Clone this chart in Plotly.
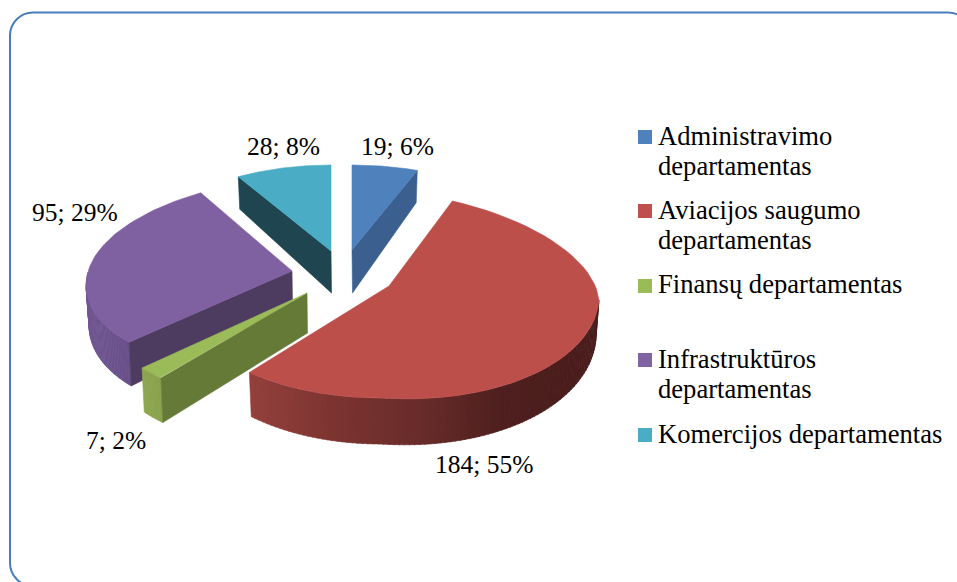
import math
import plotly.graph_objects as go

# ---- data ----
categories = ["Administravimo departamentas", "Aviacijos saugumo departamentas",
              "Finansų departamentas", "Infrastruktūros departamentas",
              "Komercijos departamentas"]
values = [19, 184, 7, 95, 28]
legend_lines = [["Administravimo", "departamentas"], ["Aviacijos saugumo", "departamentas"],
                ["Finansų departamentas"], ["Infrastruktūros", "departamentas"],
                ["Komercijos departamentas"]]

# ---- style ----
top_col = ["#4f81bd", "#bd4f4b", "#9bbb59", "#7f60a0", "#4bacc6"]
face_col = ["#3b5f8f", None, "#667a37", "#4d3b60", "#1f4650"]
W, H = 957, 582
FONT = "Liberation Serif"
FS = 25.5
FS_LEGEND = 26.6
# perspective/explosion geometry per slice
geo = [
    dict(cx=352, cy=250, rx=186, rb=85, rf=85, sb=0, sf=0, tl=0, tr=0, d0=36, dk=4, dt=43),
    dict(cx=389, cy=286, rx=210, rb=96, rf=112, sb=-11, sf=8, tl=0, tr=14, d0=38, dk=8, dt=40),
    dict(cx=307, cy=293, rx=211, rb=108, rf=110, sb=15.5, sf=15.5, tl=0, tr=0, d0=40, dk=6, dt=40),
    dict(cx=292, cy=271, rx=205, rb=94, rf=98, sb=14, sf=19, tl=6, tr=0, d0=39, dk=7, dt=34),
    dict(cx=331, cy=251, rx=184, rb=86, rf=86, sb=0, sf=0, tl=0, tr=0, d0=36, dk=4, dt=42),
]
label_pos = [(397, 146), (484, 464), (116, 440), (75, 212), (283, 146)]
legend_y = [[136, 166], [210, 240], [284], [359, 389], [434]]
marker_y = [137, 211, 286, 360, 435]

total = sum(values)
angles = [0]
for v in values:
    angles.append(angles[-1] + v / total * 2 * math.pi)


def rim(g, th):
    s, c = math.sin(th), math.cos(th)
    x = g["cx"] + g["rx"] * s + (g["sb"] if c > 0 else g["sf"]) * c
    y = g["cy"] - (g["rb"] if c > 0 else g["rf"]) * c + (g["tr"] * s if s > 0 else -g["tl"] * s)
    return x, y


def rim_low(g, th):
    x, y = rim(g, th)
    d = g["d0"] - g["dk"] * math.cos(th)
    return x - 3 * math.sin(th), y + d


def arc(g, a, b, f, n=60):
    return [f(g, a + (b - a) * i / n) for i in range(n + 1)]


def poly(fig, pts, col, name=""):
    xs = [p[0] for p in pts] + [pts[0][0]]
    ys = [p[1] for p in pts] + [pts[0][1]]
    fig.add_trace(go.Scatter(x=xs, y=ys, mode="lines", fill="toself", fillcolor=col,
                             line=dict(color=col, width=0.6), hoverinfo="skip",
                             showlegend=False, name=name))


def lerp(stops, t):
    for (x0, c0), (x1, c1) in zip(stops, stops[1:]):
        if t <= x1:
            k = max(0, (t - x0) / (x1 - x0))
            return "rgb(%d,%d,%d)" % tuple(round(a + (b - a) * k) for a, b in zip(c0, c1))
    return "rgb(%d,%d,%d)" % stops[-1][1]


red_grad = [(250, (147, 64, 60)), (330, (125, 52, 49)), (420, (104, 44, 42)),
            (500, (78, 31, 30)), (620, (72, 28, 27))]
purple_grad = [(85, (112, 86, 146)), (135, (104, 79, 136))]
green_grad = [(140, (142, 168, 80)), (165, (136, 160, 76))]

fig = go.Figure()


def side(fig, g, a, b, grad, n=50):
    for i in range(n):
        a0 = a + (b - a) * i / n
        a1 = a + (b - a) * (i + 1.15) / n
        a1 = min(a1, b) if b > a else a1
        p0, p1 = rim(g, a0), rim(g, a1)
        q1, q0 = rim_low(g, a1), rim_low(g, a0)
        poly(fig, [p0, p1, q1, q0], lerp(grad, (p0[0] + p1[0]) / 2))


def cut_face(fig, g, th, col, name):
    tip = (g["cx"], g["cy"])
    tip_low = (g["cx"] + 0.5, g["cy"] + g["dt"])
    poly(fig, [tip, rim(g, th), rim_low(g, th), tip_low], col, name)


def top(fig, g, a, b, col, name):
    poly(fig, [(g["cx"], g["cy"])] + arc(g, a, b, rim), col, name)


# back to front: Komercijos, Infrastruktūros, Finansų, Aviacijos, Administravimo
i = 4
cut_face(fig, geo[i], angles[i], face_col[i], categories[i])
top(fig, geo[i], angles[i], angles[i + 1], top_col[i], categories[i])

i = 3
side(fig, geo[i], angles[i], 3 * math.pi / 2 + 0.05, purple_grad)
cut_face(fig, geo[i], angles[i], face_col[i], categories[i])
top(fig, geo[i], angles[i], angles[i + 1], top_col[i], categories[i])

i = 2
side(fig, geo[i], angles[i], angles[i + 1], green_grad, n=8)
cut_face(fig, geo[i], angles[i], face_col[i], categories[i])
top(fig, geo[i], angles[i], angles[i + 1], top_col[i], categories[i])

i = 1
side(fig, geo[i], math.pi / 2, angles[i + 1], red_grad, n=90)
top(fig, geo[i], angles[i], angles[i + 1], top_col[i], categories[i])

i = 0
cut_face(fig, geo[i], angles[i + 1], face_col[i], categories[i])
top(fig, geo[i], angles[i], angles[i + 1], top_col[i], categories[i])

# legend swatches
fig.add_trace(go.Scatter(x=[645] * 5, y=marker_y, mode="markers", showlegend=False,
                         hoverinfo="skip", cliponaxis=False,
                         marker=dict(symbol="square", size=14, color=["#4f81bd", "#c0504d", "#9bbb59", "#8064a2", "#4bacc6"])))

ann = []
for lines, ys in zip(legend_lines, legend_y):
    for t, y in zip(lines, ys):
        ann.append(dict(x=658, y=y, text=t, xanchor="left", yanchor="middle", showarrow=False,
                        xshift=-2, font=dict(family=FONT, size=FS_LEGEND, color="#000000")))
for v, (x, y) in zip(values, label_pos):
    ann.append(dict(x=x, y=y, text=f"{v}; {round(v / total * 100)}%", xanchor="center", yanchor="middle",
                    showarrow=False, font=dict(family=FONT, size=FS, color="#000000")))

# chart-area border: rounded rectangle running past the right and bottom edges
L, T, R, B, r = 10, 12.5, 971, 586, 23
k = r * 0.45
border = (f"M {L},{T + r} C {L},{T + k} {L + k},{T} {L + r},{T} L {R - r},{T} "
          f"C {R - k},{T} {R},{T + k} {R},{T + r} L {R},{B - r} "
          f"C {R},{B - k} {R - k},{B} {R - r},{B} L {L + r},{B} "
          f"C {L + k},{B} {L},{B - k} {L},{B - r} Z")

fig.update_layout(
    width=W, height=H, autosize=False, margin=dict(l=0, r=0, t=0, b=0),
    paper_bgcolor="#ffffff", plot_bgcolor="#ffffff", showlegend=False,
    xaxis=dict(range=[0, W], visible=False, fixedrange=True),
    yaxis=dict(range=[H, 0], visible=False, fixedrange=True),
    annotations=ann,
    shapes=[dict(type="path", path=border, line=dict(color="#4a7ebb", width=2), layer="below")],
)
fig.write_html("out.html", config={"displayModeBar": False},
               post_script="document.body.style.margin='0';document.documentElement.style.overflow='hidden';")
